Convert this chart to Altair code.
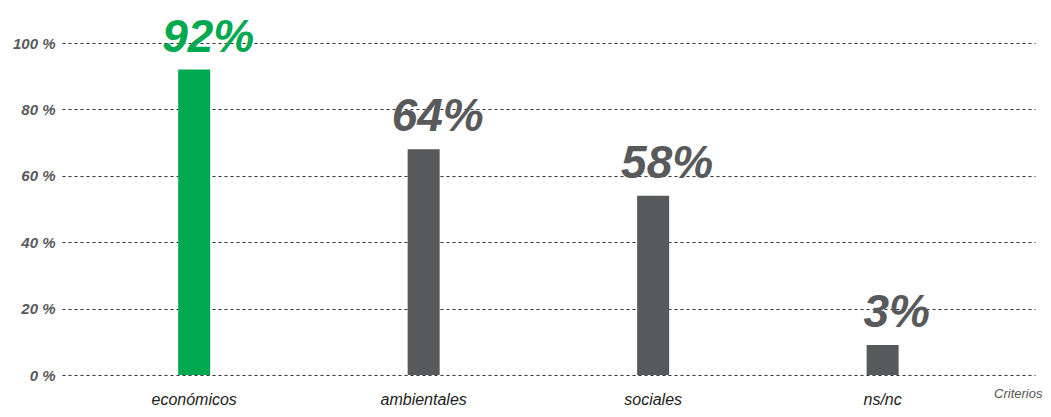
import altair as alt
import pandas as pd

categories = ["económicos", "ambientales", "sociales", "ns/nc"]
bar_values = [92, 68, 54, 9]
label_texts = ["92%", "64%", "58%", "3%"]
highlight = [True, False, False, False]

df = pd.DataFrame({"cat": categories, "val": bar_values, "lab": label_texts, "hl": highlight})

GREEN = "#00A84F"
GRAY = "#58595B"

xenc = alt.X("cat:N", sort=categories,
             scale=alt.Scale(paddingInner=0.86, paddingOuter=0.55, align=0.46),
             axis=alt.Axis(title="Criterios", labelAngle=0, labelFont="Liberation Sans",
                           labelFontStyle="italic", labelFontSize=16, labelColor="#222222",
                           labelPadding=16, domain=False, ticks=False,
                           titleFont="Liberation Sans", titleFontStyle="italic",
                           titleFontWeight="normal", titleFontSize=13, titleColor="#555555",
                           titleX=980, titleY=18, titleAlign="right", titleBaseline="middle",
                           titleAnchor="end"))
color = alt.Color("hl:N", scale=alt.Scale(domain=[True, False], range=[GREEN, GRAY]), legend=None)

bars = alt.Chart(df).mark_bar(size=32).encode(
    x=xenc,
    y=alt.Y("val:Q", scale=alt.Scale(domain=[0, 100]),
            axis=alt.Axis(title=None, values=[0, 20, 40, 60, 80, 100],
                          labelExpr="datum.value + ' %'", labelFont="Liberation Sans",
                          labelFontStyle="italic", labelFontWeight="bold", labelFontSize=15,
                          labelColor=GRAY, labelPadding=7, domain=False, ticks=False,
                          grid=True, gridDash=[3, 3], gridColor="#333333", gridWidth=1)),
    color=color,
)

labels = alt.Chart(df).mark_text(
    font="Liberation Sans", fontStyle="italic", fontWeight="bold", fontSize=46,
    baseline="alphabetic", align="center", dy=-18, dx=14,
).encode(
    x=alt.X("cat:N", sort=categories),
    y=alt.Y("val:Q"),
    text="lab:N",
    color=color,
)

chart = (bars + labels).properties(
    width=973, height=332,
    autosize=alt.AutoSizeParams(type="none"),
    padding={"left": 54, "top": 35, "right": 8, "bottom": 34},
).configure_view(stroke=None)

chart.save("out.html", embed_options={"renderer": "svg", "actions": False})
